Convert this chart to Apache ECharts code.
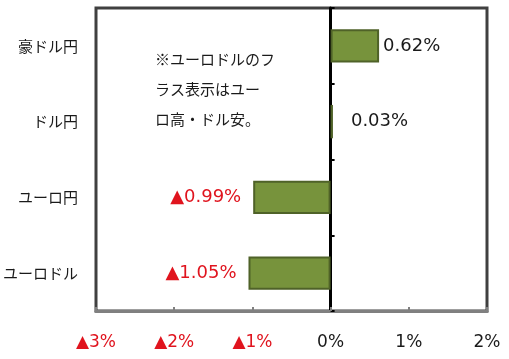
<!DOCTYPE html>
<html><head><meta charset="utf-8">
<script src="https://cdn.jsdelivr.net/npm/echarts@6/dist/echarts.min.js"></script>
<style>html,body{margin:0;padding:0;background:#fff}#c{width:509px;height:359px}</style>
</head><body><div id="c"></div>
<script>
const categories = ['豪ドル円', 'ドル円', 'ユーロ円', 'ユーロドル'];
const values = [0.62, 0.03, -0.99, -1.05];
const xTicks = [-3, -2, -1, 0, 1, 2];
const noteLines = ['※ユーロドルのフ', 'ラス表示はユー', 'ロ高・ドル安。'];

const RED = '#E0141E';
const NUMFONT = '"DejaVu Sans", "Noto Sans CJK JP", sans-serif';
const JPFONT = '"Noto Sans CJK JP", sans-serif';
const fmt = v => (v < 0 ? '▲' + Math.abs(v).toFixed(2) : v.toFixed(2)) + '%';

const chart = echarts.init(document.getElementById('c'));
chart.setOption({
  animation: false,
  grid: { left: 96, right: 22, top: 8, bottom: 48, containLabel: false, outerBoundsMode: 'none',
    show: true, borderColor: '#404040', borderWidth: 3, backgroundColor: '#fff' },
  xAxis: {
    type: 'value', min: xTicks[0], max: xTicks[xTicks.length - 1], interval: 1,
    splitLine: { show: false },
    axisLine: { show: true, lineStyle: { color: '#808080', width: 3 } },
    axisTick: { show: true, inside: true, length: 4, lineStyle: { color: '#808080', width: 2 } },
    axisLabel: {
      margin: 23, fontSize: 17, fontFamily: NUMFONT,
      formatter: v => (v < 0 ? '▲' + Math.abs(v) : v) + '%',
      color: v => (v < 0 ? RED : '#1a1a1a')
    }
  },
  yAxis: [{
    type: 'category', data: categories, inverse: true,
    axisLine: { show: false }, axisTick: { show: false },
    axisLabel: { margin: 18, fontSize: 15, fontFamily: JPFONT, color: '#1a1a1a' }
  }, {
    type: 'category', data: categories, inverse: true, position: 'left',
    axisLine: { show: true, onZero: true, onZeroAxisIndex: 0, lineStyle: { color: '#000', width: 3 } },
    axisTick: { show: true, inside: true, length: 4, lineStyle: { color: '#000', width: 2 } },
    axisLabel: { show: false }
  }],
  series: [{
    type: 'bar', yAxisIndex: 0, barWidth: '44%',
    itemStyle: { color: '#77933C', borderColor: '#4F6228', borderWidth: 2 },
    data: values.map((v, i) => ({
      value: v,
      label: {
        show: true, formatter: fmt(v), fontSize: 18, fontFamily: NUMFONT,
        position: v < 0 ? 'left' : 'right',
        distance: v < 0 ? 12 : (Math.abs(v) < 0.1 ? 18 : 4),
        color: v < 0 ? RED : '#1a1a1a'
      }
    })),
    z: 2
  }],
  graphic: noteLines.map((t, i) => ({
    type: 'text', left: 155, top: 52 + i * 30,
    style: { text: t, fontSize: 15, fontFamily: JPFONT, fill: '#1a1a1a' }
  }))
});
</script></body></html>
